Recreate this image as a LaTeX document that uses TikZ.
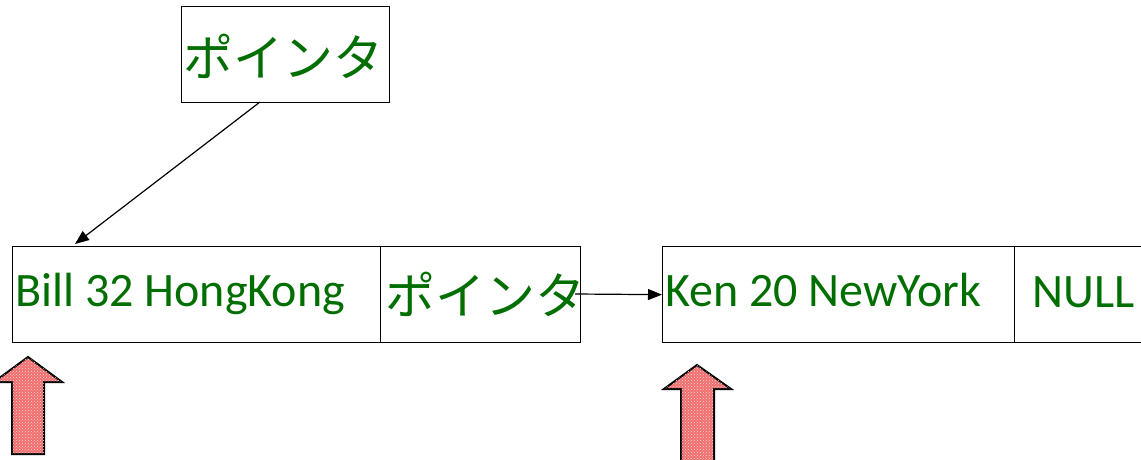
\documentclass[tikz,border=0pt]{standalone}
\usepackage{fontspec}
\setmainfont{Carlito}
\newfontfamily\jpfont{Noto Sans CJK JP}
\usetikzlibrary{arrows.meta,patterns}
\definecolor{txtgreen}{RGB}{0,110,0}
\definecolor{arrowred}{RGB}{240,110,110}
\tikzset{
  cell/.style={draw=black, line width=1.3pt},
  lbl/.style={inner sep=0pt, text=txtgreen, font=\fontsize{48}{52}\selectfont},
  jlbl/.style={inner sep=0pt, text=txtgreen, font=\jpfont\fontsize{50}{54}\selectfont},
  link/.style={draw=black, line width=1.2pt, -{Triangle[length=14pt,width=11pt]}},
  blockarrow/.style={draw=black, line width=2pt, line join=miter, fill=arrowred,
    postaction={pattern=crosshatch dots, pattern color=white!85!red}}
}
\begin{document}
\begin{tikzpicture}[x=1pt,y=-1pt]
\useasboundingbox (0,0) rectangle (1141,460);
\begin{scope}
\clip (0,0) rectangle (1141,460);
% top box
\node[cell, minimum width=208pt, minimum height=96pt, anchor=north west] (top) at (181,6) {};
\node[jlbl, anchor=west] (toplbl) at (183,56) {ポインタ};
% first node
\node[cell, minimum width=368pt, minimum height=96pt, anchor=north west] (data1) at (12,246) {};
\node[cell, minimum width=200pt, minimum height=96pt, anchor=north west] (ptr1) at (380,246) {};
\node[lbl, anchor=base west] (d1lbl) at (15,306) {Bill 32 HongKong};
\node[jlbl, anchor=west] (p1lbl) at (385,294) {ポインタ};
% second node
\node[cell, minimum width=352pt, minimum height=96pt, anchor=north west] (data2) at (662,246) {};
\node[cell, minimum width=160pt, minimum height=96pt, anchor=north west] (ptr2) at (1014,246) {};
\node[lbl, anchor=base west] (d2lbl) at (665,306) {Ken 20 NewYork};
\node[lbl, anchor=base west] (p2lbl) at (1032,307) {NULL};
% connectors
\coordinate (topfoot) at (260,102);
\coordinate (d1head) at (75,244);
\draw[link] (topfoot) -- (d1head);
\coordinate (p1start) at (575,294);
\draw[link] (p1start) -- (data2.west);
% block arrows
\draw[blockarrow] (28,357) -- (62,382) -- (44,382) -- (44,454) -- (12,454) -- (12,382) -- (-6,382) -- cycle;
\draw[blockarrow] (697,365) -- (731,389) -- (714,389) -- (714,470) -- (681,470) -- (681,389) -- (664,389) -- cycle;
\end{scope}
\end{tikzpicture}
\end{document}
